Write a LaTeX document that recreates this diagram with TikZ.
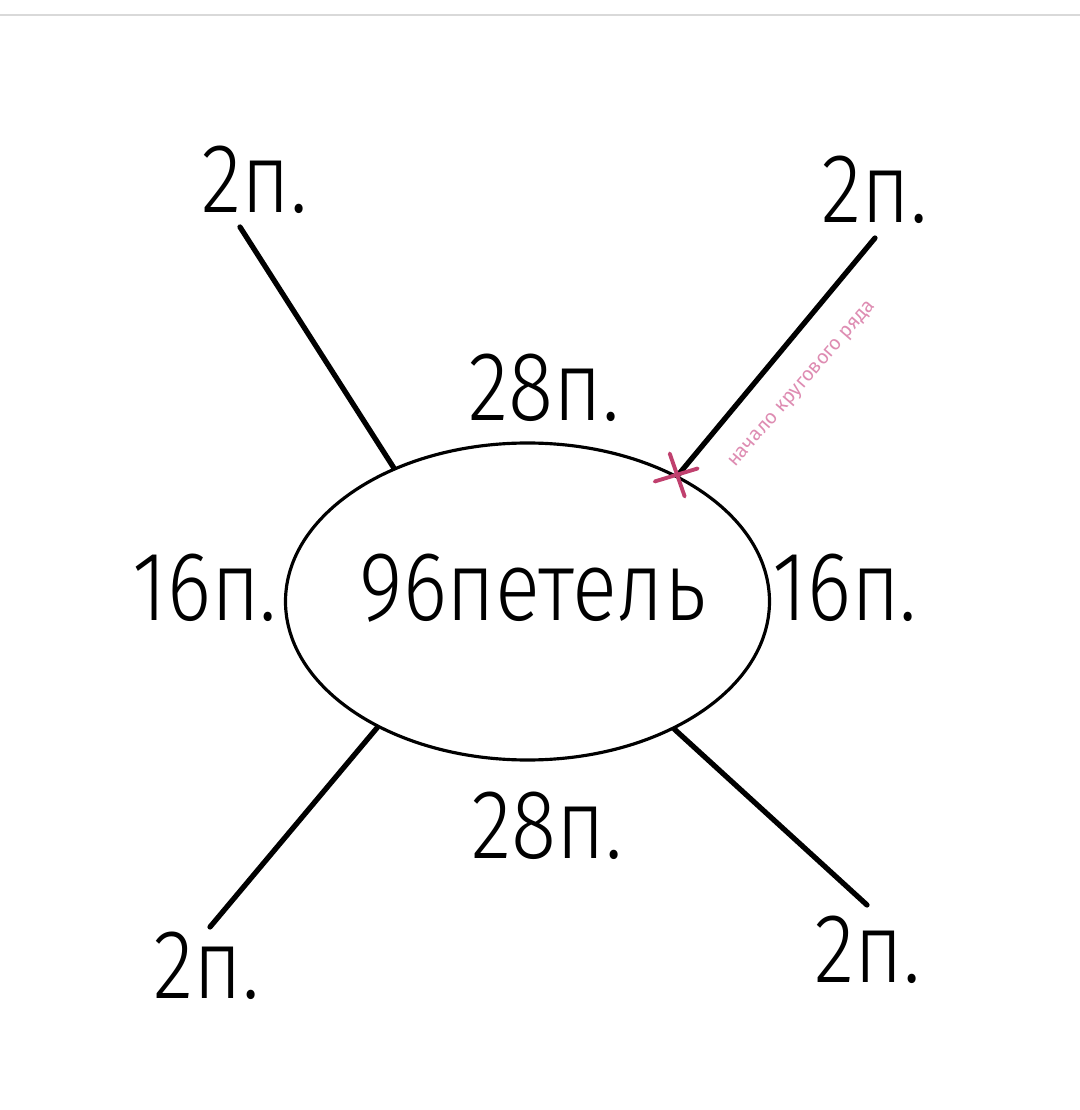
\documentclass[tikz,border=0pt]{standalone}
\usepackage{fontspec}
\setmainfont{Fira Sans Light}[FakeStretch=0.85]
\newfontfamily\notefont{Fira Sans}
\usetikzlibrary{shapes.geometric}

\tikzset{
	count/.style={anchor=base, inner sep=0pt, font=\fontsize{28}{32}\selectfont},
	ray/.style={line width=1.5pt, line cap=round},
	startmark/.style={line width=1.1pt, draw={rgb,255:red,192;green,64;blue,110}, line cap=round}
}

\begin{document}
\begin{tikzpicture}
		\useasboundingbox (0,0) rectangle (10.8,11.1);
		\fill[white] (0,0) rectangle (10.8,11.1);
		\draw[black!15, line width=0.6pt] (0,10.95) -- (10.8,10.95);

		\draw (5.275,5.085) node [ellipse, draw, line width=0.9pt, minimum width=4.84cm, minimum height=3.17cm, inner sep=0pt] (loop) {};
		\draw (5.33,4.90) node [count] (total) {96петель};

		\draw (2.55,8.98) node [count] (tl) {2п.};
		\draw (8.75,8.88) node [count] (tr) {2п.};
		\draw (2.07,1.12) node [count] (bl) {2п.};
		\draw (8.68,1.27) node [count] (br) {2п.};
		\draw (5.44,6.90) node [count] (top) {28п.};
		\draw (5.47,2.52) node [count] (bottom) {28п.};
		\draw (2.05,4.90) node [count] (left) {16п.};
		\draw (8.45,4.90) node [count] (right) {16п.};

		\coordinate (tlend) at (2.40,8.83);
		\coordinate (trend) at (8.75,8.72);
		\coordinate (blend) at (2.10,1.83);
		\coordinate (brend) at (8.67,2.05);

		\draw[ray]
			(tlend) edge (loop.135.4)
			(trend) edge (loop.40.5)
			(blend) edge (loop.220.9)
			(brend) edge (loop.319)
		;

		% start of the round
		\coordinate (start) at (loop.40.5);
		\draw[startmark] ([shift={(-0.08,0.22)}]start) -- ([shift={(0.07,-0.21)}]start);
		\draw[startmark] ([shift={(-0.23,-0.06)}]start) -- ([shift={(0.20,0.07)}]start);
		\draw (8.03,7.25) node [rotate=49, inner sep=0pt, text={rgb,255:red,222;green,140;blue,178}, font=\notefont\fontsize{5.6}{7}\selectfont] (note) {начало кругового ряда};
	\end{tikzpicture}
\end{document}
